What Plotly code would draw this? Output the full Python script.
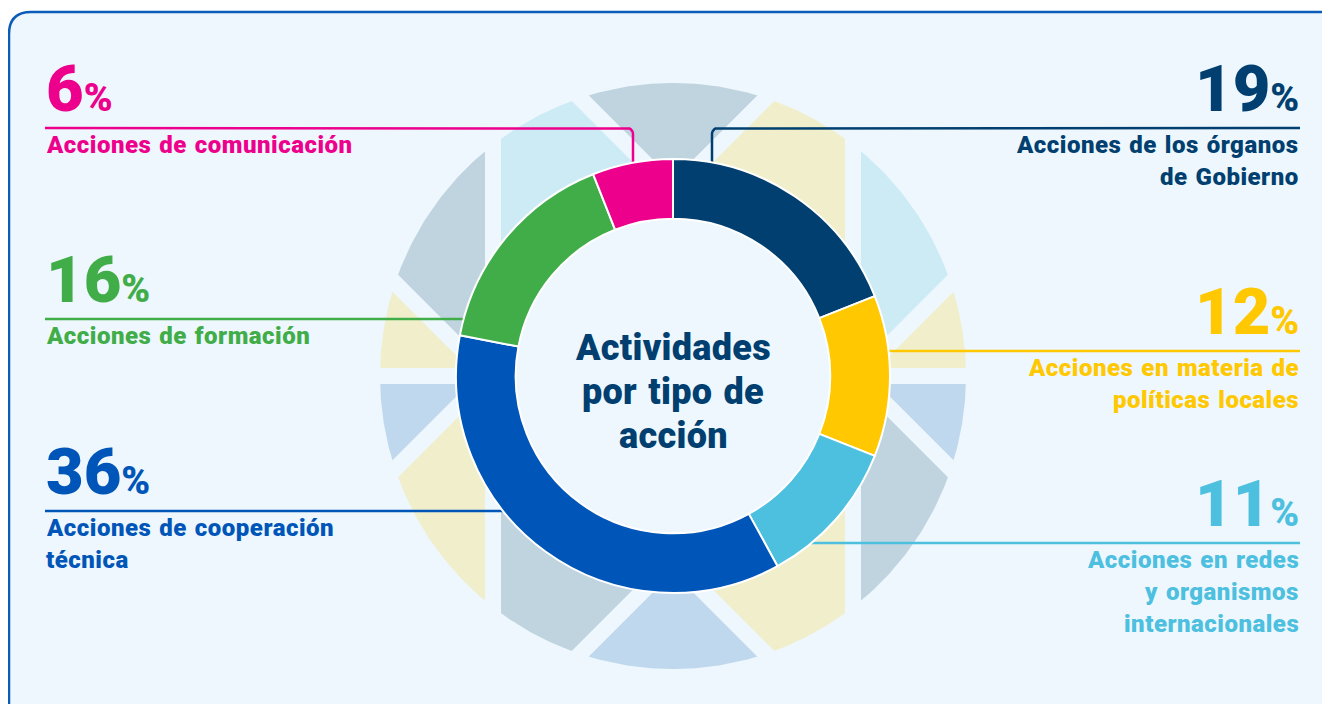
import numpy as np
import plotly.graph_objects as go

# datos del gráfico (sentido horario desde las 12)
categorias = [
    "Acciones de los órganos<br>de Gobierno",
    "Acciones en materia de<br>políticas locales",
    "Acciones en redes<br>y organismos<br>internacionales",
    "Acciones de cooperación<br>técnica",
    "Acciones de formación",
    "Acciones de comunicación",
]
porcentajes = [19, 12, 11, 36, 16, 6]
colores = ["#003f6f", "#ffc800", "#4dbfdf", "#0055b8", "#41ad49", "#ec008c"]
titulo_centro = ["Actividades", "por tipo de", "acción"]

# estilo / posiciones en pixeles de pantalla (la pagina tiene 8px de margen)
W, H, OFF = 1330, 704, 8
CX, CY = 673, 376
R_DONUT, HOLE = 217, 0.725
R_DECO, R_IN = 293, 200
FONDO = "#edf7fd"
NAVY = "#003f6f"
deco_cols = {"g": "#c0d4e0", "c": "#cdebf5", "y": "#f1efcb", "b": "#bfd8ed"}
deco_orden = ["y", "c", "y", "g", "c", "g", "y", "b", "y", "g", "b", "y", "g", "b"]
# lineas de corte  a*dx + b*dy = c
cortes = [(0, 1, 0), (1, 0, 180), (1, 0, -180), (1, 1, 185), (1, 1, -185), (1, -1, 185), (1, -1, -185)]

# lado de cada etiqueta, y de la linea guia y punto final de la guia
lado = ["r", "r", "r", "l", "l", "l"]
guia_y = [128, 351, 543, 511, 319, 128]
guia_fin = [(712, 190), (875, 351), (800, 543), (515, 511), (475, 319), (633, 190)]
XL, XR = 45, 1300
F_NUM, F_PCT, F_LAB, F_TIT = 65, 39, 24, 36
PESO = 900
ASC, DESC = 0.928, 0.244
EST_LAB = "letter-spacing:0.5px;word-spacing:1.5px"
EST_TIT = "letter-spacing:0.3px;word-spacing:2px"


def cruces(a, b, c, r):
    n = np.array([a, b], float)
    nn = np.linalg.norm(n)
    n, d = n / nn, c / nn
    t = np.array([-n[1], n[0]])
    h = np.sqrt(r * r - d * d)
    return [d * n + h * t, d * n - h * t]


fig = go.Figure()

# piezas decorativas del fondo
puntos = []
for (a, b, c) in cortes:
    for p_out in cruces(a, b, c, R_DECO):
        q = min(cruces(a, b, c, R_IN), key=lambda v: np.linalg.norm(v - p_out))
        ang = np.degrees(np.arctan2(p_out[1], p_out[0])) % 360
        if ang > 359.9:
            ang = 0.0
        puntos.append((ang, p_out, q))
puntos.sort(key=lambda t: t[0])

for i in range(len(puntos)):
    a1, p1, q1 = puntos[i]
    a2, p2, q2 = puntos[(i + 1) % len(puntos)]
    if a2 <= a1:
        a2 += 360
    arco = np.radians(np.linspace(a1, a2, 40))
    xs = list(R_DECO * np.cos(arco)) + [q2[0], q1[0]]
    ys = list(R_DECO * np.sin(arco)) + [q2[1], q1[1]]
    fig.add_trace(go.Scatter(
        x=[CX + v for v in xs], y=[CY - v for v in ys], mode="lines",
        fill="toself", fillcolor=deco_cols[deco_orden[i]], line=dict(width=0),
        hoverinfo="skip", showlegend=False))

# huecos entre piezas
for (a, b, c) in cortes:
    p, q = cruces(a, b, c, R_DECO + 6)
    fig.add_trace(go.Scatter(
        x=[CX + p[0], CX + q[0]], y=[CY - p[1], CY - q[1]], mode="lines",
        line=dict(color=FONDO, width=16), hoverinfo="skip", showlegend=False))

# disco interior (tapa el agujero del anillo)
th = np.linspace(0, 2 * np.pi, 120)
fig.add_trace(go.Scatter(
    x=CX + 175 * np.cos(th), y=CY + 175 * np.sin(th), mode="lines", fill="toself",
    fillcolor=FONDO, line=dict(width=0), hoverinfo="skip", showlegend=False))

# lineas guia
for i in range(len(porcentajes)):
    y0 = guia_y[i]
    xe, ye = guia_fin[i]
    x0 = XR if lado[i] == "r" else XL
    if ye != y0:
        s = 1 if x0 > xe else -1
        rr = 6
        t = np.linspace(0, np.pi / 2, 8)
        cx_, cy_ = xe + rr * s, y0 + rr
        xs = [x0] + list(cx_ - rr * s * np.sin(t)) + [xe]
        ys = [y0] + list(cy_ - rr * np.cos(t)) + [ye]
    else:
        xs, ys = [x0, xe], [y0, ye]
    fig.add_trace(go.Scatter(x=xs, y=ys, mode="lines", line=dict(color=colores[i], width=2.5),
                             hoverinfo="skip", showlegend=False))

# anillo
fig.add_trace(go.Pie(
    values=porcentajes, labels=[c.replace("<br>", " ") for c in categorias],
    marker=dict(colors=colores, line=dict(color="white", width=2)),
    hole=HOLE, sort=False, direction="clockwise", rotation=0,
    textinfo="none", showlegend=False,
    domain=dict(x=[(CX - R_DONUT - OFF) / W, (CX + R_DONUT - OFF) / W],
                y=[(H + OFF - CY - R_DONUT) / H, (H + OFF - CY + R_DONUT) / H])))

# textos
anot = []
for i, v in enumerate(porcentajes):
    der = lado[i] == "r"
    xa = XR if der else XL
    anc = "right" if der else "left"
    base_num = guia_y[i] - 15.5
    anot.append(dict(
        x=xa, y=base_num + DESC * F_NUM, xref="x", yref="y", xanchor=anc, yanchor="bottom",
        text=f"{v}<span style='font-size:{F_PCT}px'>%</span>",
        showarrow=False, borderpad=0,
        font=dict(family="Roboto", size=F_NUM, color=colores[i], weight=PESO)))
    for k, linea in enumerate(categorias[i].split("<br>")):
        base = guia_y[i] + 24 + 32 * k
        anot.append(dict(
            x=xa, y=base - ASC * F_LAB, xref="x", yref="y", xanchor=anc, yanchor="top",
            text=f"<span style='{EST_LAB}'>{linea}</span>", showarrow=False,
            borderpad=0, font=dict(family="Roboto", size=F_LAB, color=colores[i], weight=PESO)))

for k, linea in enumerate(titulo_centro):
    base = 359 + 44 * k
    anot.append(dict(
        x=CX, y=base - ASC * F_TIT, xref="x", yref="y", xanchor="center", yanchor="top",
        text=f"<span style='{EST_TIT}'>{linea}</span>", showarrow=False,
        borderpad=0, font=dict(family="Roboto", size=F_TIT, color=NAVY, weight=PESO)))

fig.update_layout(
    width=W, height=H, margin=dict(l=0, r=0, t=0, b=0),
    paper_bgcolor="white", plot_bgcolor="white",
    xaxis=dict(range=[OFF, W + OFF], visible=False, fixedrange=True),
    yaxis=dict(range=[H + OFF, OFF], visible=False, fixedrange=True),
    annotations=anot,
    shapes=[dict(type="path", xref="x", yref="y", layer="below",
                 path="M 9,760 L 9,34 Q 9,12 31,12 L 1360,12 L 1360,760 Z",
                 fillcolor=FONDO, line=dict(color="#0a5cb8", width=2.5))],
)

fig.write_html("out.html")
